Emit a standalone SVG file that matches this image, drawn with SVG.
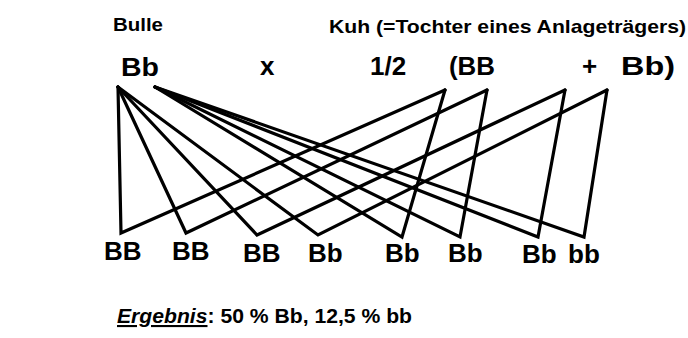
<svg xmlns="http://www.w3.org/2000/svg" width="688" height="338" viewBox="0 0 688 338">
<style>
.t{font-family:"Liberation Sans",Arial,sans-serif;fill:#000;font-weight:bold}
.h{font-size:19px}
.g{font-size:26px}
.r{font-size:21px}
.c polyline{fill:none;stroke:#000;stroke-width:3.2;stroke-linejoin:miter;stroke-linecap:round}
</style>
<rect width="688" height="338" fill="#fff"/>
<g id="header">
<text class="t h" x="113" y="31" textLength="50" lengthAdjust="spacingAndGlyphs">Bulle</text>
<text class="t h" x="329" y="33" textLength="357" lengthAdjust="spacingAndGlyphs">Kuh (=Tochter eines Anlageträgers)</text>
</g>
<g id="parents">
<text class="t g" x="121" y="76" textLength="38" lengthAdjust="spacingAndGlyphs">Bb</text>
<text class="t g" x="260" y="75">x</text>
<text class="t g" x="370" y="75">1/2</text>
<text class="t g" x="449" y="75" textLength="46" lengthAdjust="spacingAndGlyphs">(BB</text>
<text class="t g" x="582" y="75">+</text>
<text class="t g" x="621" y="75" textLength="54" lengthAdjust="spacingAndGlyphs">Bb)</text>
</g>
<g id="connectors" class="c">
<polyline points="118,87 121,233 445,90"/>
<polyline points="118,87 186,233 487,90"/>
<polyline points="118,87 257,235 565,90"/>
<polyline points="118,87 318,235 607,90"/>
<polyline points="155,87 402,237 445,90"/>
<polyline points="155,87 460,237 487,90"/>
<polyline points="155,87 538,237 565,90"/>
<polyline points="155,87 584,237 607,90"/>
</g>
<g id="offspring">
<text id="o1" class="t g" x="104" y="260">BB</text>
<text id="o2" class="t g" x="172" y="260">BB</text>
<text id="o3" class="t g" x="243" y="262">BB</text>
<text id="o4" class="t g" x="308" y="262">Bb</text>
<text id="o5" class="t g" x="385" y="262">Bb</text>
<text id="o6" class="t g" x="448" y="262">Bb</text>
<text id="o7" class="t g" x="522" y="263">Bb</text>
<text id="o8" class="t g" x="568" y="263">bb</text>
</g>
<g id="result">
<text class="t r" x="117" y="323" textLength="295" lengthAdjust="spacingAndGlyphs"><tspan font-style="italic" text-decoration="underline">Ergebnis</tspan>: 50 % Bb, 12,5 % bb</text>
</g>
</svg>
